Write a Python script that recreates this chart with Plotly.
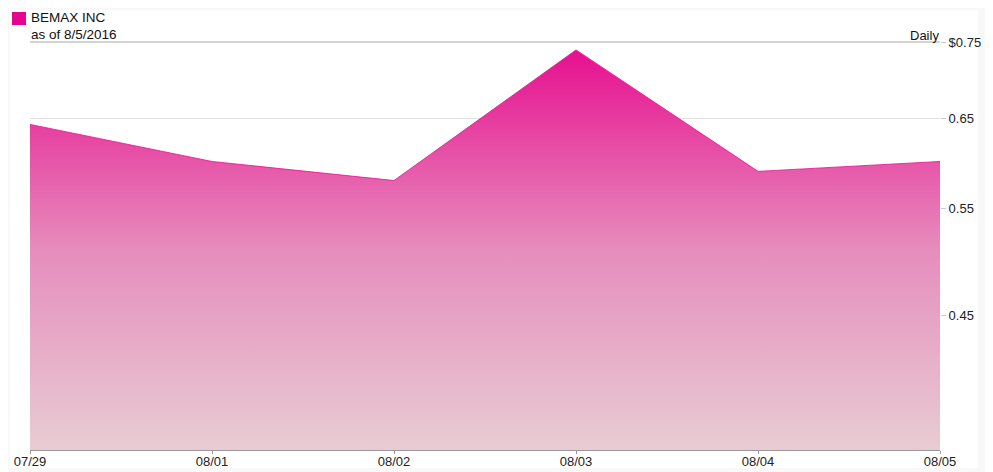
import math
import plotly.graph_objects as go

dates = ["07/29", "08/01", "08/02", "08/03", "08/04", "08/05"]
prices = [0.643, 0.600, 0.579, 0.739, 0.589, 0.600]
tick_vals = [0.45, 0.55, 0.65, 0.75]
tick_text = ["0.45", "0.55", "0.65", "$0.75"]
y_min, y_max = 0.35, 0.75

OFF = 8  # page body margin
W, H = 993 - OFF, 472 - OFF
L, T = 30 - OFF, 42 - OFF
R, B = 53, 22
pw, ph = W - L - R, H - T - B


def px_x(p):  # p in reference page pixels
    return (p - OFF - L) / pw


def px_y(p):
    return (H - B - (p - OFF)) / ph


fig = go.Figure()
fig.add_trace(go.Scatter(x=dates, y=[y_min] * len(dates), mode="lines",
                         line=dict(width=0, color="rgba(0,0,0,0)"),
                         hoverinfo="skip", showlegend=False))
fig.add_trace(go.Scatter(
    x=dates, y=prices, mode="lines", name="BEMAX INC",
    line=dict(width=0.8, color="#e6108f"),
    fill="tonexty",
    fillgradient=dict(type="vertical",
                      colorscale=[[0, "#e8ccd3"], [0.5, "#e68dbd"], [1, "#e6108f"]]),
    showlegend=False))

fig.update_layout(
    width=W, height=H,
    margin=dict(l=L, r=R, t=T, b=B, autoexpand=False),
    paper_bgcolor="#f8f8f8",
    plot_bgcolor="white",
    font=dict(family="Liberation Sans, Arial, sans-serif", size=13, color="#222"),
    xaxis=dict(type="category", range=[0, len(dates) - 1], showgrid=False,
               automargin=False,
               showline=True, linecolor="#999", linewidth=1,
               ticks="outside", ticklen=3, tickcolor="#999",
               ticklabelstandoff=-4,
               tickfont=dict(size=13, color="#222"), zeroline=False),
    yaxis=dict(type="log", side="right", automargin=False,
               range=[math.log10(y_min), math.log10(y_max)],
               tickvals=tick_vals, ticktext=tick_text,
               showgrid=True, gridcolor="#e2e2e2", gridwidth=1,
               ticks="outside", ticklen=5, tickcolor="#cccccc",
               tickfont=dict(size=13, color="#222"),
               showline=False, zeroline=False),
    shapes=[
        dict(type="rect", xref="paper", yref="paper", layer="below",
             x0=px_x(10), x1=px_x(978), y0=px_y(468), y1=px_y(10),
             fillcolor="white", line=dict(width=0)),
        dict(type="line", xref="paper", yref="paper",
             x0=0, x1=1, y0=1, y1=1, line=dict(color="#aaaaaa", width=1)),
        dict(type="rect", xref="paper", yref="paper",
             x0=px_x(12), x1=px_x(26), y0=px_y(25), y1=px_y(12),
             fillcolor="#e6058f", line=dict(width=0)),
    ],
    annotations=[
        dict(text="BEMAX INC", xref="paper", yref="paper", x=px_x(29), y=px_y(18),
             xanchor="left", yanchor="middle", showarrow=False,
             font=dict(size=13.5, color="#111")),
        dict(text="as of 8/5/2016", xref="paper", yref="paper", x=px_x(29), y=px_y(34),
             xanchor="left", yanchor="middle", showarrow=False,
             font=dict(size=13.5, color="#111")),
        dict(text="Daily", xref="paper", yref="paper", x=px_x(941), y=px_y(35),
             xanchor="right", yanchor="middle", showarrow=False,
             font=dict(size=13, color="#111")),
    ],
)

fig.write_html("out.html")
